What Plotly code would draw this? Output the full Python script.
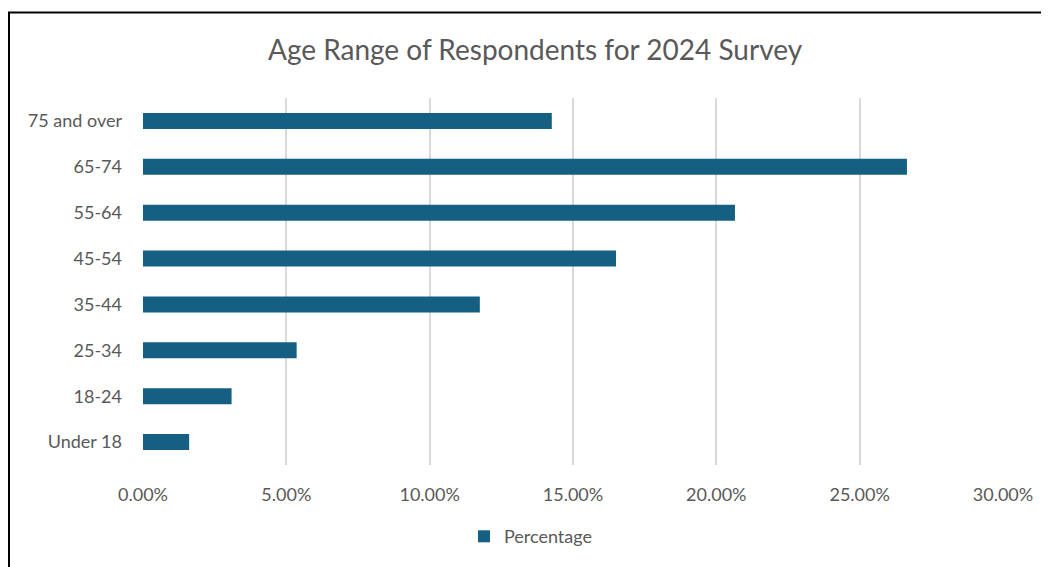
import plotly.graph_objects as go

categories = ["Under 18", "18-24", "25-34", "35-44", "45-54", "55-64", "65-74", "75 and over"]
percentages = [0.0161, 0.0309, 0.0536, 0.1175, 0.1650, 0.2065, 0.2665, 0.1426]
tick_vals = [0, 0.05, 0.10, 0.15, 0.20, 0.25, 0.30]
tick_text = ["0.00%", "5.00%", "10.00%", "15.00%", "20.00%", "25.00%", "30.00%"]

BAR = "#156082"
TXT = "#595959"
FONT = "Lato"

OFF = 8  # page body margin
W, H = 1049 - OFF, 567 - OFF
# plot area in page pixels
PX0, PX1, PY0, PY1 = 143, 1003, 98, 467
ml, mr, mt, mb = PX0 - OFF, W - (PX1 - OFF), PY0 - OFF, H - (PY1 - OFF)


def px_x(p):
    return (p - PX0) / (PX1 - PX0)


def px_y(p):
    return (PY1 - p) / (PY1 - PY0)


fig = go.Figure(go.Bar(
    y=categories, x=percentages, orientation="h",
    name="Percentage", marker=dict(color=BAR, line=dict(width=0)),
    showlegend=True,
))

fig.update_layout(
    width=W, height=H,
    margin=dict(l=ml, r=mr, t=mt, b=mb),
    paper_bgcolor="white", plot_bgcolor="white",
    bargap=0.65,
    font=dict(family=FONT, color=TXT, size=18),
    title=dict(text="Age Range of Respondents for 2024 Survey",
               font=dict(family=FONT, size=28, color=TXT),
               x=(535 - OFF) / W, xanchor="center", xref="container",
               y=1 - (50 - OFF) / H, yanchor="middle", yref="container"),
    xaxis=dict(range=[0, 0.30], tickvals=tick_vals, ticktext=tick_text,
               showgrid=True, gridcolor="#D9D9D9", gridwidth=1.5,
               zeroline=False, showline=False, ticks="",
               ticklabelstandoff=17, tickfont=dict(size=18, color=TXT)),
    yaxis=dict(showgrid=False, zeroline=False, showline=False, ticks="",
               ticklabelstandoff=20, tickfont=dict(size=18, color=TXT)),
    legend=dict(orientation="h", x=px_x(464), xanchor="left",
                y=px_y(539), yanchor="middle",
                font=dict(size=18, color=TXT), itemwidth=30),
    shapes=[dict(type="rect", xref="paper", yref="paper",
                 x0=px_x(9), x1=px_x(1070),
                 y0=px_y(590), y1=px_y(12),
                 line=dict(color="black", width=2), fillcolor="rgba(0,0,0,0)",
                 layer="above")],
)

fig.write_html("out.html")
